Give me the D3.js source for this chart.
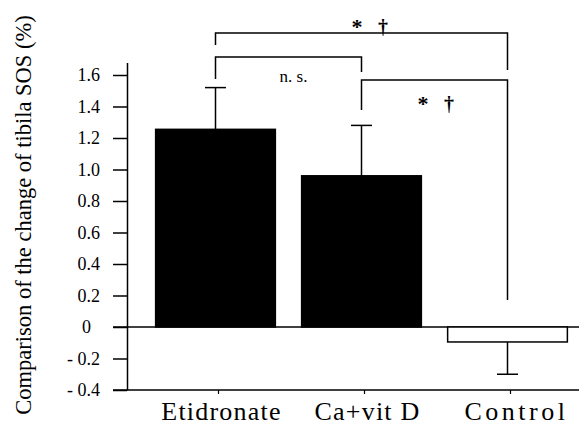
<!DOCTYPE html>
<html>
<head>
<meta charset="utf-8">
<script src="https://cdn.jsdelivr.net/npm/d3@7"></script>
<style>
body { margin: 0; background: #fff; }
</style>
</head>
<body>
<div id="chart"></div>
<script>
// data
var groups = ["Etidronate", "Ca+vit D", "Control"];
var means = [1.255, 0.96, -0.095];
var sds = [0.265, 0.32, 0.205];
var yTicks = [-0.4, -0.2, 0, 0.2, 0.4, 0.6, 0.8, 1.0, 1.2, 1.4, 1.6];

// significance brackets: from group, to group, bar height, leg ends, label
var brFrom = ["Etidronate", "Etidronate", "Ca+vit D"];
var brTo = ["Ca+vit D", "Control", "Control"];
var brTop = [1.714, 1.867, 1.568];
var brLeftEnd = [1.575, 1.79, 1.378];
var brRightEnd = [1.619, 1.632, 0.171];
var brLabel = ["n. s.", "* †", "* †"];

var FONT = "'Liberation Serif', 'Times New Roman', serif";
var width = 579, height = 425;
var left = 127;

var svg = d3.select("#chart").append("svg")
    .attr("width", width)
    .attr("height", height)
    .attr("font-family", FONT);

var x = d3.scaleBand()
    .domain(groups)
    .range([142.5, 580.5])
    .paddingInner(0.18)
    .paddingOuter(0.09);

var y = d3.scaleLinear()
    .domain([-0.4, 1.68])
    .range([390, 62.4]);

function cx(g) { return x(g) + x.bandwidth() / 2; }

function fmt(d) {
    if (d === 0) return "0";
    var s = Math.abs(d).toFixed(1);
    return d < 0 ? "- " + s : s;
}

// y axis
var yAxis = svg.append("g")
    .attr("transform", "translate(" + left + ",0)")
    .call(d3.axisLeft(y).tickValues(yTicks).tickFormat(fmt)
        .tickSize(14).tickSizeOuter(0).tickPadding(13));
yAxis.attr("font-family", FONT).attr("font-size", 18);
yAxis.selectAll("path, line").attr("stroke", "#000").attr("stroke-width", 1.5);
yAxis.selectAll("text").attr("fill", "#000")
    .attr("dx", function(d) { return d === 0 ? -9 : 0; });

// x axis line and small ticks
svg.append("line")
    .attr("x1", left - 14).attr("x2", width)
    .attr("y1", y(-0.4)).attr("y2", y(-0.4))
    .attr("stroke", "#000").attr("stroke-width", 1.5);

svg.selectAll(".xtick").data(groups).enter().append("line")
    .attr("x1", function(d) { return cx(d) + 3; })
    .attr("x2", function(d) { return cx(d) + 3; })
    .attr("y1", y(-0.4)).attr("y2", y(-0.4) + 4)
    .attr("stroke", "#000").attr("stroke-width", 1.2);

svg.selectAll(".xlab").data(groups).enter().append("text")
    .attr("x", function(d) { return cx(d) + (d === "Control" ? 9 : 6); })
    .attr("y", 420)
    .attr("text-anchor", "middle")
    .attr("font-size", 26)
    .attr("fill", "#000")
    .style("letter-spacing", function(d) { return d === "Control" ? "3.5px" : "1.2px"; })
    .text(function(d) { return d; });

// zero line
svg.append("line")
    .attr("x1", left - 14).attr("x2", width)
    .attr("y1", y(0)).attr("y2", y(0))
    .attr("stroke", "#000").attr("stroke-width", 1.5);

// bars
svg.selectAll(".bar").data(groups).enter().append("rect")
    .attr("x", function(d) { return x(d); })
    .attr("width", x.bandwidth())
    .attr("y", function(d, i) { return y(Math.max(0, means[i])); })
    .attr("height", function(d, i) { return Math.abs(y(means[i]) - y(0)); })
    .attr("fill", function(d, i) { return means[i] < 0 ? "#fff" : "#000"; })
    .attr("stroke", "#000")
    .attr("stroke-width", 1.5);

// error bars
groups.forEach(function(g, i) {
    var tip = means[i] < 0 ? means[i] - sds[i] : means[i] + sds[i];
    svg.append("line")
        .attr("x1", cx(g)).attr("x2", cx(g))
        .attr("y1", y(means[i])).attr("y2", y(tip))
        .attr("stroke", "#000").attr("stroke-width", 1.5);
    svg.append("line")
        .attr("x1", cx(g) - 10.5).attr("x2", cx(g) + 10.5)
        .attr("y1", y(tip)).attr("y2", y(tip))
        .attr("stroke", "#000").attr("stroke-width", 1.5);
});

// brackets
brFrom.forEach(function(f, i) {
    var x1 = cx(f), x2 = cx(brTo[i]);
    svg.append("path")
        .attr("d", "M" + x1 + "," + y(brLeftEnd[i]) +
            "V" + y(brTop[i]) + "H" + x2 + "V" + y(brRightEnd[i]))
        .attr("fill", "none")
        .attr("stroke", "#000")
        .attr("stroke-width", 1.5);
});

// bracket labels
svg.append("text")
    .attr("x", (cx(brFrom[0]) + cx(brTo[0])) / 2 + 5)
    .attr("y", y(brTop[0]) + 25)
    .attr("text-anchor", "middle")
    .attr("font-size", 17)
    .attr("fill", "#000")
    .text(brLabel[0]);

[1, 2].forEach(function(i) {
    var parts = brLabel[i].split(" ");
    var mx = i === 1 ? 370 : 436;
    var by = i === 1 ? y(brTop[i]) + 1 : y(brTop[i]) + 31;
    svg.append("text")
        .attr("x", mx - 13).attr("y", by)
        .attr("text-anchor", "middle")
        .attr("font-size", 22)
        .attr("font-weight", "bold")
        .attr("fill", "#000")
        .text(parts[0]);
    svg.append("text")
        .attr("x", mx + 13).attr("y", by)
        .attr("text-anchor", "middle")
        .attr("font-size", 20)
        .attr("font-weight", "bold")
        .attr("fill", "#000")
        .text(parts[1]);
});

// y title
svg.append("text")
    .attr("transform", "translate(31,215) rotate(-90)")
    .attr("text-anchor", "middle")
    .attr("font-size", 22.5)
    .attr("fill", "#000")
    .text("Comparison of the change of tibila SOS (%)");
</script>
</body>
</html>
